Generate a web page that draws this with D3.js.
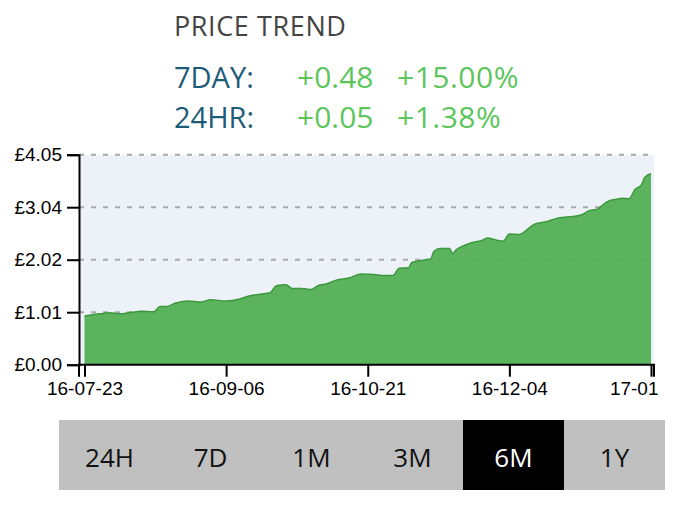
<!DOCTYPE html>
<html>
<head>
<meta charset="utf-8">
<script src="https://cdn.jsdelivr.net/npm/d3@7"></script>
<style>
body { margin: 0; background: #fff; }
</style>
</head>
<body>
<svg id="page" width="682" height="508"></svg>
<script>
// price series (6M view)
var dates = ["2016-07-23","2016-07-28","2016-07-31","2016-08-03","2016-08-07","2016-08-10","2016-08-14",
  "2016-08-16","2016-08-18","2016-08-21","2016-08-25","2016-08-29","2016-09-01","2016-09-06","2016-09-10",
  "2016-09-13","2016-09-17","2016-09-20","2016-09-22","2016-09-25","2016-09-27","2016-09-30","2016-10-03",
  "2016-10-05","2016-10-08","2016-10-11","2016-10-15","2016-10-19","2016-10-23","2016-10-26","2016-10-29",
  "2016-10-31","2016-11-03","2016-11-04","2016-11-08","2016-11-10","2016-11-11","2016-11-13","2016-11-16",
  "2016-11-17","2016-11-18","2016-11-20","2016-11-23","2016-11-26","2016-11-28","2016-12-01","2016-12-03",
  "2016-12-05","2016-12-08","2016-12-13","2016-12-17","2016-12-20","2016-12-24","2016-12-28","2016-12-30",
  "2017-01-02","2017-01-05","2017-01-08","2017-01-10","2017-01-12","2017-01-14","2017-01-16","2017-01-17",
  "2017-01-19"];
var prices = [0.94,0.98,1.00,0.98,1.01,1.03,1.02,
  1.12,1.12,1.19,1.23,1.21,1.25,1.23,1.26,
  1.32,1.36,1.39,1.52,1.54,1.47,1.47,1.45,
  1.52,1.56,1.63,1.67,1.75,1.74,1.72,1.72,
  1.86,1.87,1.97,2.02,2.04,2.18,2.24,2.24,
  2.14,2.21,2.28,2.35,2.39,2.44,2.40,2.38,
  2.52,2.51,2.71,2.76,2.82,2.85,2.89,2.96,
  3.00,3.14,3.19,3.21,3.20,3.38,3.47,3.61,
  3.68];

var yTickLabels = ["£0.00","£1.01","£2.02","£3.04","£4.05"];
var xTickLabels = ["16-07-23","16-09-06","16-10-21","16-12-04","17-01"];

var titleText = "PRICE TREND";
var changeNames = ["7DAY:","24HR:"];
var changeAbs = ["+0.48","+0.05"];
var changePct = ["+15.00%","+1.38%"];

var periods = ["24H","7D","1M","3M","6M","1Y"];
var activePeriod = "6M";

var page = d3.select("#page");

// header
page.append("text")
    .attr("x", 174).attr("y", 36)
    .attr("font-family", "Open Sans")
    .attr("font-size", 27)
    .attr("font-weight", 500)
    .attr("letter-spacing", 0.6)
    .attr("fill", "#444")
    .text(titleText);

changeNames.forEach(function(n, i) {
    var yy = 88 + i * 40;
    page.append("text").attr("x", 174).attr("y", yy)
        .attr("font-family", "Open Sans").attr("font-size", 29)
        .attr("fill", "#1d5b79").text(n);
    page.append("text").attr("x", 297).attr("y", yy)
        .attr("font-family", "Open Sans").attr("font-size", 30)
        .attr("fill", "#5cc55c").text(changeAbs[i]);
    page.append("text").attr("x", 397).attr("y", yy)
        .attr("font-family", "Open Sans").attr("font-size", 30)
        .attr("letter-spacing", 0.5)
        .attr("fill", "#5cc55c").text(changePct[i]);
});

// chart
var plotL = 79, plotR = 654, plotT = 154.7, plotB = 364.7;

var chart = page.append("g");

var parseDate = d3.utcParse("%Y-%m-%d");
var data = dates.map(function(d, i) { return {date: parseDate(d), price: prices[i]}; });

var x = d3.scaleUtc()
    .domain(d3.extent(data, function(d) { return d.date; }))
    .range([plotL + 5.5, plotR - 3]);
var ymax = d3.max(data, function(d) { return d.price; }) * 1.1;
var y = d3.scaleLinear().domain([0, ymax]).range([plotB, plotT]);

var t0 = x.domain()[0].getTime(), t1 = x.domain()[1].getTime();
var xTicks = d3.range(5).map(function(i) { return new Date(t0 + (t1 - t0) * i / 4); });
var yTicks = d3.range(5).map(function(i) { return ymax * i / 4; });

chart.append("rect")
    .attr("x", plotL).attr("y", plotT)
    .attr("width", plotR - plotL).attr("height", plotB - plotT)
    .attr("fill", "#edf1f8");

// grid
chart.append("g").selectAll("line")
    .data(yTicks.slice(1))
    .enter().append("line")
    .attr("x1", plotL).attr("x2", plotR)
    .attr("y1", function(d) { return y(d); })
    .attr("y2", function(d) { return y(d); })
    .attr("stroke", "#a9a9ab")
    .attr("stroke-width", 2)
    .attr("stroke-dasharray", "5,7");

var area = d3.area()
    .curve(d3.curveMonotoneX)
    .x(function(d) { return x(d.date); })
    .y0(plotB)
    .y1(function(d) { return y(d.price); });
var line = d3.line()
    .curve(d3.curveMonotoneX)
    .x(function(d) { return x(d.date); })
    .y(function(d) { return y(d.price); });

chart.append("path")
    .datum(data)
    .attr("d", area)
    .attr("fill", "#51ae52")
    .attr("fill-opacity", 0.93);
chart.append("path")
    .datum(data)
    .attr("d", line)
    .attr("fill", "none")
    .attr("stroke", "#3c983c")
    .attr("stroke-width", 1.5);

// x axis
var gx = chart.append("g")
    .attr("transform", "translate(0," + plotB + ")")
    .call(d3.axisBottom(x).tickValues(xTicks)
        .tickFormat(function(d, i) { return xTickLabels[i]; })
        .tickSize(12).tickPadding(5));
gx.select(".domain").attr("d", "M" + plotL + ",12V0H" + plotR + "V12");

// y axis
var gy = chart.append("g")
    .attr("transform", "translate(" + plotL + ",0)")
    .call(d3.axisLeft(y).tickValues(yTicks)
        .tickFormat(function(d, i) { return yTickLabels[i]; })
        .tickSize(12).tickPadding(5));

[gx, gy].forEach(function(g) {
    g.selectAll("path, line").attr("stroke", "#000").attr("stroke-width", 2);
    g.selectAll("text")
        .attr("font-family", "Liberation Sans, Arial")
        .attr("font-size", 19)
        .attr("fill", "#000");
});
// the last date label is cut short in the source; keep it inside the page
gx.selectAll(".tick:last-of-type text")
    .attr("text-anchor", "end")
    .attr("x", 7);

// period buttons
var band = d3.scaleBand().domain(periods).range([59, 665]);
var btn = page.append("g").selectAll("g")
    .data(periods).enter().append("g");
btn.append("rect")
    .attr("x", function(d) { return band(d); })
    .attr("y", 420)
    .attr("width", band.bandwidth())
    .attr("height", 70)
    .attr("fill", function(d) { return d == activePeriod ? "#000" : "#c0c0c0"; });
btn.append("text")
    .attr("x", function(d) { return band(d) + band.bandwidth() / 2; })
    .attr("y", 467)
    .attr("text-anchor", "middle")
    .attr("font-family", "Open Sans")
    .attr("font-size", 26)
    .attr("fill", function(d) { return d == activePeriod ? "#fff" : "#111"; })
    .text(function(d) { return d; });
</script>
</body>
</html>
